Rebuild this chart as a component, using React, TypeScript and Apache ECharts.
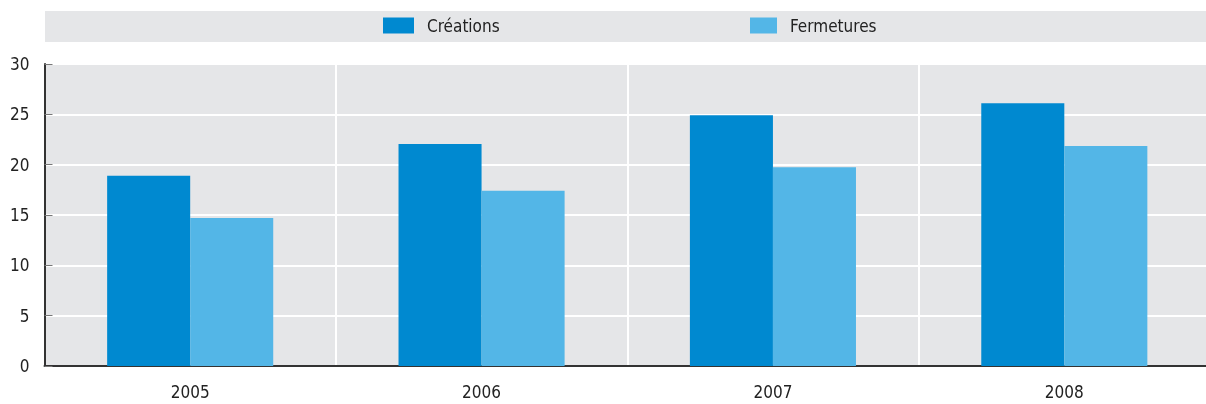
import React, { useEffect, useRef } from "react";
import * as echarts from "echarts";

const categories = ["2005", "2006", "2007", "2008"];
const creations = [18.9, 22.05, 24.9, 26.1];
const fermetures = [14.7, 17.4, 19.75, 21.85];
const seriesNames = ["Créations", "Fermetures"];
const yTicks = { min: 0, max: 30, interval: 5 };

const FONT = "'DejaVu Sans Condensed', 'Liberation Sans', sans-serif";

export default function App() {
  const ref = useRef<HTMLDivElement>(null);
  useEffect(() => {
    if (!ref.current) return;
    const chart = echarts.init(ref.current, undefined, { renderer: "svg" });
    chart.setOption({
      animation: false,
      textStyle: { fontFamily: FONT },
      graphic: [
        {
          type: "rect",
          shape: { x: 45, y: 11, width: 1165, height: 31 },
          style: { fill: "#e5e6e8" },
          silent: true,
          z: -1,
        },
      ],
      legend: [
        {
          data: [seriesNames[0]],
          left: 378,
          top: 12,
          itemWidth: 31,
          itemHeight: 16,
          icon: "rect",
          textStyle: { fontFamily: FONT, fontSize: 17, color: "#222", padding: [0, 0, 0, 8] },
        },
        {
          data: [seriesNames[1]],
          left: 745,
          top: 12,
          itemWidth: 27,
          itemHeight: 16,
          icon: "rect",
          textStyle: { fontFamily: FONT, fontSize: 17, color: "#222", padding: [0, 0, 0, 8] },
        },
      ],
      grid: {
        left: 44.5,
        right: 0,
        top: 64,
        bottom: 38,
        show: true,
        backgroundColor: "#e5e6e8",
        borderWidth: 0,
        containLabel: false,
      },
      xAxis: {
        type: "category",
        data: categories,
        boundaryGap: true,
        axisLine: { lineStyle: { color: "#333", width: 2 } },
        axisTick: { inside: true, length: 6, lineStyle: { color: "#333" } },
        axisLabel: { fontFamily: FONT, fontSize: 17, color: "#222", margin: 17 },
        splitLine: { show: true, lineStyle: { color: "#ffffff", width: 2 } },
      },
      yAxis: {
        type: "value",
        min: yTicks.min,
        max: yTicks.max,
        interval: yTicks.interval,
        axisLine: { show: true, lineStyle: { color: "#333", width: 2 } },
        axisTick: { show: true, inside: true, length: 8, lineStyle: { color: "#777" } },
        axisLabel: { fontFamily: FONT, fontSize: 17, color: "#222", margin: 15 },
        splitLine: { show: true, lineStyle: { color: "#ffffff", width: 2 } },
      },
      series: [
        {
          name: seriesNames[0],
          type: "bar",
          data: creations,
          barWidth: "28.5%",
          barGap: "0%",
          itemStyle: { color: "#0089d0" },
        },
        {
          name: seriesNames[1],
          type: "bar",
          data: fermetures,
          barWidth: "28.5%",
          barGap: "0%",
          itemStyle: { color: "#53b6e7" },
        },
      ],
    });
    return () => chart.dispose();
  }, []);
  return (
    <div style={{ position: "fixed", left: 0, top: 0, width: 1206, height: 404, overflow: "hidden" }}>
      <div ref={ref} style={{ width: 1210, height: 404 }} />
    </div>
  );
}
